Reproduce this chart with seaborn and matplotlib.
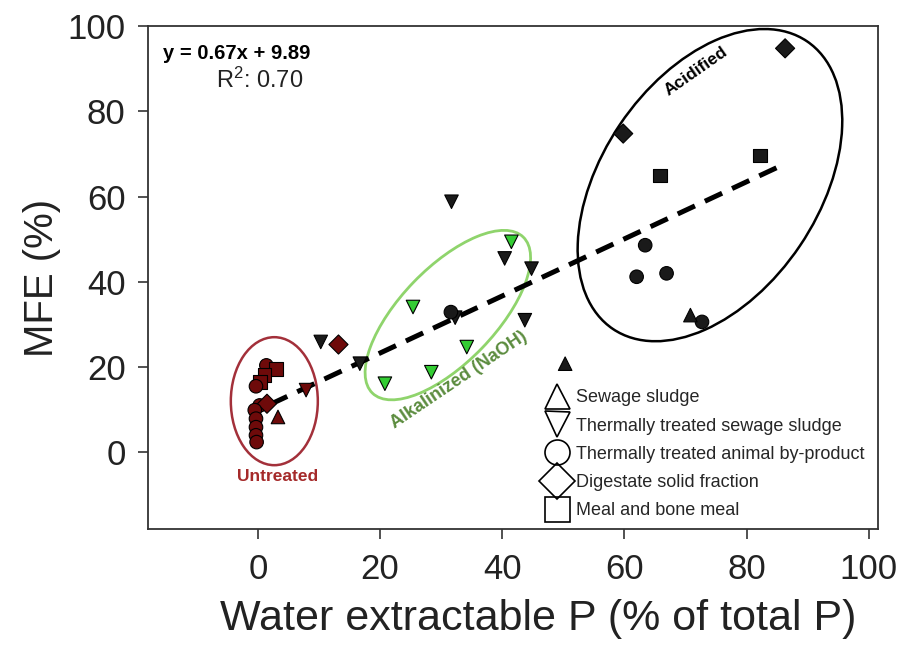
import matplotlib
matplotlib.use("Agg")
import matplotlib.pyplot as plt
import seaborn as sns
import pandas as pd
from matplotlib.patches import Ellipse
from matplotlib.transforms import ScaledTranslation
from matplotlib.lines import Line2D

# ---------------- data ----------------
untreated_x = [1.4, 3.0, 1.1, 0.4, -0.3, 0.3, 1.5, -0.5, -0.3, -0.3, -0.3, -0.2, 3.3, 7.9, 13.2]
untreated_y = [20.4, 19.6, 18.1, 16.5, 15.5, 11.0, 11.4, 9.9, 7.9, 5.9, 4.0, 2.4, 8.3, 14.6, 25.3]
untreated_m = ["o", "s", "s", "s", "o", "o", "D", "o", "o", "o", "o", "o", "^", "v", "D"]

alkal_x = [20.8, 28.4, 34.2, 25.4, 41.5]
alkal_y = [16.1, 18.8, 24.7, 34.1, 49.4]
alkal_m = ["v", "v", "v", "v", "v"]

other_x = [10.3, 16.7, 31.7, 40.4, 44.8, 43.7, 32.3,
           31.6, 63.4, 62.0, 66.9, 72.7,
           50.3, 70.8,
           59.8, 86.3,
           65.8, 82.2]
other_y = [25.9, 20.8, 58.8, 45.5, 43.1, 31.0, 31.6,
           32.9, 48.6, 41.2, 42.0, 30.6,
           20.8, 32.2,
           74.8, 94.8,
           65.0, 69.7]
other_m = ["v", "v", "v", "v", "v", "v", "v",
           "o", "o", "o", "o", "o",
           "^", "^",
           "D", "D",
           "s", "s"]

material_names = {
    "^": "Sewage sludge",
    "v": "Thermally treated sewage sludge",
    "o": "Thermally treated animal by-product",
    "D": "Digestate solid fraction",
    "s": "Meal and bone meal",
}
legend_order = ["^", "v", "o", "D", "s"]

slope, intercept = 0.67, 9.89
fit_x = [2.0, 85.0]

x_ticks = [0, 20, 40, 60, 80, 100]
y_ticks = [0, 20, 40, 60, 80, 100]

# ---------------- frame ----------------
rows = []
for xs, ys, ms, grp in [(untreated_x, untreated_y, untreated_m, "Untreated"),
                        (alkal_x, alkal_y, alkal_m, "Alkalinized"),
                        (other_x, other_y, other_m, "Other")]:
    for x, y, m in zip(xs, ys, ms):
        rows.append({"x": x, "y": y, "material": material_names[m], "group": grp})
df = pd.DataFrame(rows)

sns.set_theme(style="white")
plt.rcParams["font.family"] = ["Liberation Sans", "DejaVu Sans"]
plt.rcParams["mathtext.fontset"] = "custom"
plt.rcParams["mathtext.rm"] = "Liberation Sans"
plt.rcParams["mathtext.it"] = "Liberation Sans:italic"
plt.rcParams["mathtext.bf"] = "Liberation Sans:bold"

fig = plt.figure(figsize=(9.07, 6.48), dpi=100)
ax = fig.add_axes([0.163, 0.1836, 0.805, 0.776])

palette = {"Untreated": "#6e0a0a", "Alkalinized": "#33cc33", "Other": "#1a1a1a"}
markers = {material_names[k]: k for k in legend_order}

# regression line
fit_y = [slope * v + intercept for v in fit_x]
ax.plot(fit_x, fit_y, color="black", lw=3.6, linestyle=(0, (3.8, 2.2)), zorder=2,
        solid_capstyle="butt")

sns.scatterplot(data=df, x="x", y="y", hue="group", style="material",
                palette=palette, markers=markers, s=95, edgecolor="black",
                linewidth=0.8, ax=ax, legend=False, zorder=3)

# ellipses (sizes in inches, centred on data positions)
def add_ellipse(cx, cy, w_in, h_in, angle, color, lw):
    tr = fig.dpi_scale_trans + ScaledTranslation(cx, cy, ax.transData)
    e = Ellipse((0, 0), w_in, h_in, angle=angle, transform=tr, fill=False,
                edgecolor=color, lw=lw, zorder=1)
    ax.add_patch(e)

add_ellipse(2.7, 12.0, 0.87, 1.28, 0, "#a3303a", 1.8)
add_ellipse(31.1, 32.2, 2.17, 0.95, 46, "#8fd46c", 2.0)
add_ellipse(74.0, 62.7, 3.47, 2.17, 56, "black", 1.8)

# annotations
ax.text(3.3, -5.6, "Untreated", color="#a52a2a", fontsize=12.5, fontweight="bold",
        ha="center", va="center")
ax.text(32.9, 16.9, "Alkalinized (NaOH)", color="#5b8c3e", fontsize=13,
        fontweight="bold", ha="center", va="center", rotation=34, rotation_mode="anchor")
ax.text(71.8, 89.4, "Acidified", color="black", fontsize=12.5, fontweight="bold",
        ha="center", va="center", rotation=35, rotation_mode="anchor")
ax.text(-15.6, 93.7, "y = 0.67x + 9.89", fontsize=14.5, fontweight="bold",
        ha="left", va="center", color="black")
ax.text(0.3, 87.3, "R$^2$: 0.70", fontsize=17, ha="center", va="center", color="#222222")

# legend
handles = [Line2D([], [], linestyle="none", marker=k, markersize=18,
                  markerfacecolor="none", markeredgecolor="black", markeredgewidth=1.2)
           for k in legend_order]
labels = [material_names[k] for k in legend_order]
ax.legend(handles, labels, loc="upper left", bbox_to_anchor=(0.535, 0.292),
          frameon=False, fontsize=13, handletextpad=0.5, labelspacing=0.62,
          borderaxespad=0, handlelength=1.2)

# axes
ax.set_xlim(-18, 101.5)
ax.set_ylim(-18, 100)
ax.set_xticks(x_ticks)
ax.set_yticks(y_ticks)
ax.tick_params(axis="both", labelsize=25, length=7, width=1.2, direction="out",
               color="#333333", labelcolor="#222222", bottom=True, left=True)
ax.tick_params(axis="x", pad=10)
ax.tick_params(axis="y", pad=9)
for sp in ax.spines.values():
    sp.set_visible(True)
    sp.set_color("#333333")
    sp.set_linewidth(1.3)
ax.set_xlabel("Water extractable P (% of total P)", fontsize=31, color="#222222")
ax.xaxis.set_label_coords(0.534, -0.14)
ax.set_ylabel("MFE (%)", fontsize=29, color="#222222", labelpad=5)
ax.grid(False)

fig.savefig("out.png", dpi=100)
